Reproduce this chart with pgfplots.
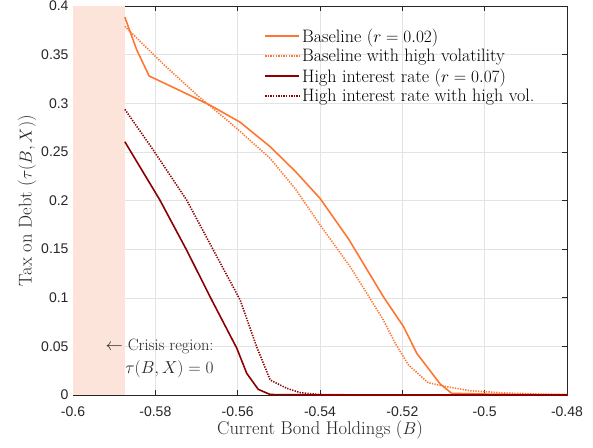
\documentclass[border=0pt]{standalone}
\usepackage{pgfplots}
\pgfplotsset{compat=1.18}
\usepackage{fontspec}
\newfontfamily\tickfont{Liberation Sans}
\definecolor{baseorange}{RGB}{255,118,50}
\definecolor{darkred}{RGB}{140,0,0}
\definecolor{crisis}{RGB}{252,228,218}
\definecolor{frame}{RGB}{38,38,38}
\begin{document}
\begin{tikzpicture}
\path[use as bounding box] (-73pt,-52pt) rectangle (520pt,395pt);
\begin{axis}[
  at={(0pt,0pt)}, anchor=south west,
  scale only axis, width=494pt, height=389pt,
  xmin=-0.6, xmax=-0.48, ymin=0, ymax=0.4,
  xtick={-0.6,-0.58,...,-0.479}, ytick={0,0.05,...,0.401},
  xticklabels={-0.6,-0.58,-0.56,-0.54,-0.52,-0.5,-0.48},
  yticklabels={0,0.05,0.1,0.15,0.2,0.25,0.3,0.35,0.4},
  tick align=inside, major tick length=5pt,
  xtick pos=both, ytick pos=both,
  every tick/.style={frame, line width=0.6pt},
  axis line style={frame, line width=0.6pt},
  grid=major, grid style={gray!22, line width=0.5pt},
  ticklabel style={font=\fontsize{14}{16}\tickfont, text=frame},
  xticklabel style={yshift=-8pt},
  yticklabel style={xshift=-1pt},
  xlabel={Current Bond Holdings ($B$)},
  ylabel={Tax on Debt ($\tau(B,X)$)},
  xlabel style={yshift=3pt},
  ylabel style={yshift=-2pt},
  label style={font=\fontsize{18.5}{21}\selectfont, text=frame},
  legend style={draw=none, fill=none, at={(0.385,0.95)}, anchor=north west,
    font=\fontsize{18}{21}\selectfont, row sep=1.5pt, inner sep=1pt},
  legend cell align=left,
  legend image code/.code={\draw[#1, line width=1.8pt] (0pt,0pt) -- (34pt,0pt);},
]
\addplot[fill=crisis, draw=none, forget plot] coordinates {(-0.6,0) (-0.5874,0) (-0.5874,0.4) (-0.6,0.4)} -- cycle;
\addplot[baseorange, line width=1.6pt] coordinates {
(-0.5874,0.3885) (-0.5845,0.3547) (-0.5815,0.328) (-0.5740,0.313) (-0.5667,0.298)
(-0.5594,0.2805) (-0.5521,0.2553) (-0.5460,0.230) (-0.5400,0.2022) (-0.5330,0.160)
(-0.5246,0.101) (-0.5197,0.0702) (-0.5165,0.0429) (-0.5108,0.0113) (-0.5080,0.0017)
(-0.50,0.001) (-0.49,0.0005) (-0.48,0.0003)};
\addlegendentry{Baseline ($r=0.02$)}
\addplot[baseorange, line width=1.6pt, dash pattern=on 1.3pt off 1.3pt] coordinates {
(-0.5874,0.379) (-0.5780,0.340) (-0.5695,0.307) (-0.5610,0.277) (-0.5521,0.2433)
(-0.5460,0.212) (-0.5400,0.175) (-0.5327,0.132) (-0.5286,0.1045) (-0.5246,0.077)
(-0.5217,0.053) (-0.5185,0.0308) (-0.5137,0.0126) (-0.5092,0.0085) (-0.5035,0.0044)
(-0.495,0.002) (-0.485,0.0008) (-0.48,0.0005)};
\addlegendentry{Baseline with high volatility}
\addplot[darkred, line width=1.6pt] coordinates {
(-0.5874,0.2604) (-0.5862,0.2519) (-0.5789,0.2005) (-0.5724,0.149) (-0.5663,0.0977)
(-0.5602,0.048) (-0.5578,0.0223) (-0.555,0.0058) (-0.5521,0.0005) (-0.54,0) (-0.48,0)};
\addlegendentry{High interest rate ($r=0.07$)}
\addplot[darkred, line width=1.6pt, dash pattern=on 1.3pt off 1.3pt] coordinates {
(-0.5874,0.2937) (-0.5805,0.2519) (-0.5724,0.2005) (-0.5659,0.149) (-0.5594,0.0977)
(-0.5554,0.0497) (-0.5521,0.0154) (-0.5481,0.0069) (-0.5448,0.0024) (-0.540,0.0005)
(-0.53,0) (-0.48,0)};
\addlegendentry{High interest rate with high vol.}
\node[align=right, anchor=east, font=\fontsize{16.4}{23}\selectfont, text=frame]
  at (axis cs:-0.5650,0.038) {$\leftarrow$ Crisis region:\\ $\tau(B,X)=0$};
\end{axis}
\end{tikzpicture}
\end{document}
